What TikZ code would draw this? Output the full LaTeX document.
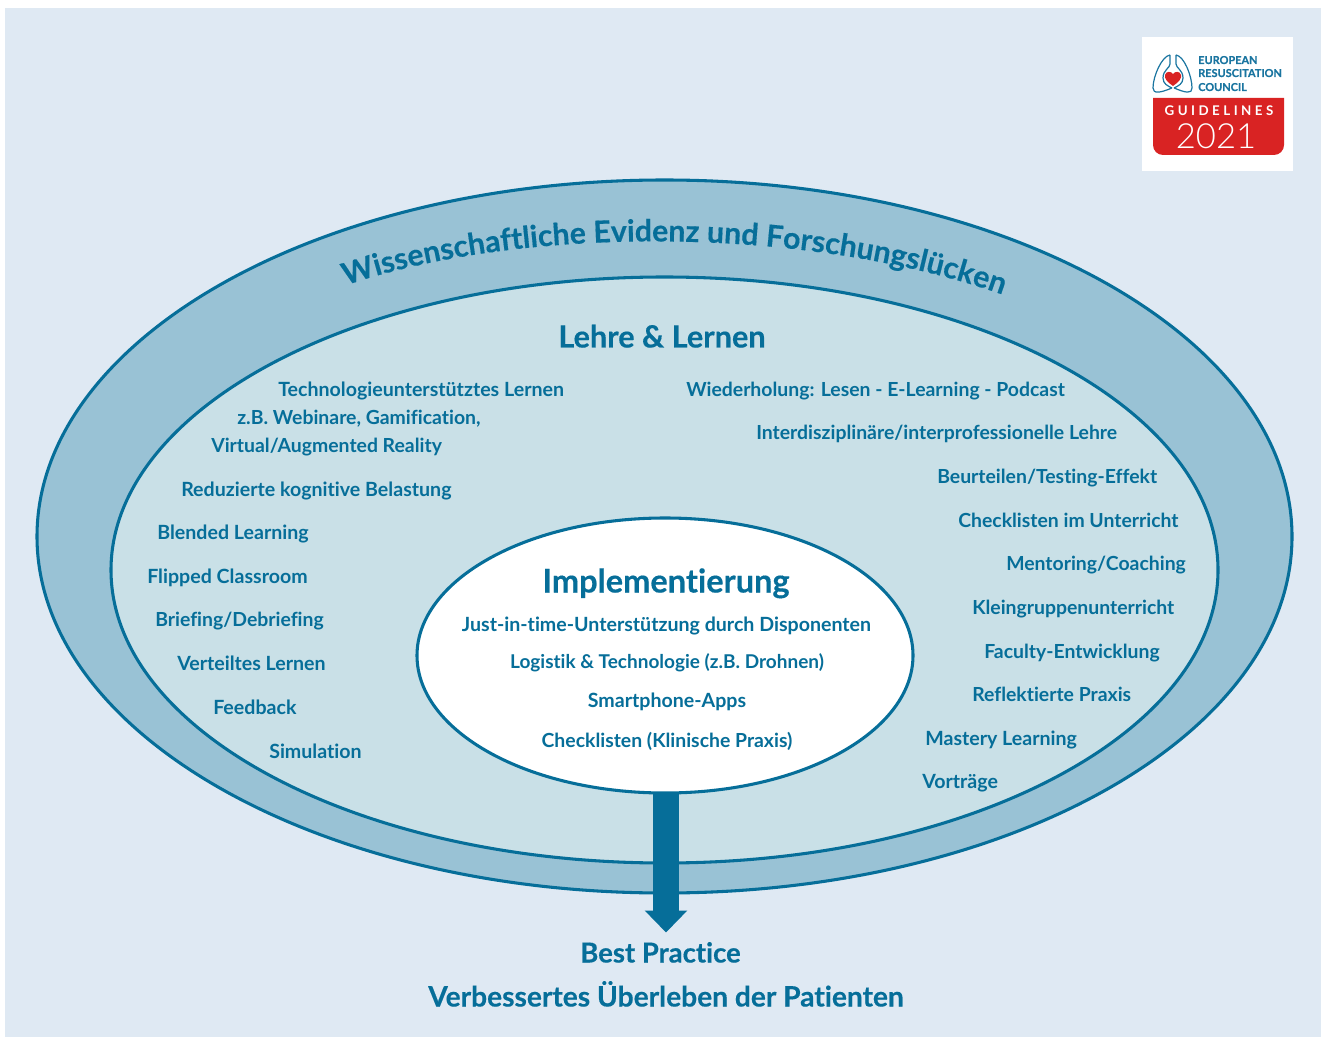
\documentclass[tikz,border=0pt]{standalone}
\usepackage{fontspec}
\setmainfont{Lato}[Ligatures=NoCommon]
\usetikzlibrary{shapes.geometric,decorations.text,arrows.meta}
\definecolor{bgc}{HTML}{DFE9F3}
\definecolor{ringc}{HTML}{99C2D5}
\definecolor{midc}{HTML}{C9E0E7}
\definecolor{linec}{HTML}{066E99}
\definecolor{redc}{HTML}{D92323}
\definecolor{logoblue}{HTML}{1A75A0}
\tikzset{
  x=0.75pt,y=-0.75pt,
  oval/.style={ellipse,draw=linec,line width=2.3pt,inner sep=0pt,outer sep=0pt},
  lab/.style={anchor=base west,inner sep=0pt,text=linec,yshift=-0.6pt,font=\bfseries\fontsize{14.7}{16}\selectfont},
  rlab/.style={lab,font=\bfseries\fontsize{14.55}{16}\selectfont},
  head/.style={anchor=base,inner sep=0pt,text=linec,font=\bfseries\addfontfeature{FakeBold=0.4}\fontsize{23}{26}\selectfont},
  foot/.style={anchor=base,inner sep=0pt,text=linec,font=\bfseries\addfontfeature{FakeBold=0.4}\fontsize{20.6}{24}\selectfont},
  logotxt/.style={anchor=base west,inner sep=0pt,text=logoblue,font=\bfseries\addfontfeature{FakeBold=0.4}\fontsize{8.2}{9}\selectfont},
}
\begin{document}
\begin{tikzpicture}
\useasboundingbox (0,0) rectangle (1321,1037);
\fill[white] (0,0) rectangle (1321,1037);
\fill[bgc] (5,8) rectangle (1321,1037);
% ellipses
\node[oval,fill=ringc,minimum width=941.25pt,minimum height=534.75pt] (outer) at (664.5,536.5) {};
\node[oval,fill=midc,minimum width=830.25pt,minimum height=439.5pt] (middle) at (664.5,570) {};
\node[oval,fill=white,minimum width=372pt,minimum height=206.25pt] (inner) at (665,655.5) {};
% arrow
\coordinate (tip) at (666,932.5);
\draw[linec,line width=19.8pt,-{Triangle[length=16.5pt,width=31pt]}] (tip|-inner.south) -- (tip);
% curved title
\path[decorate,decoration={text along path,text align=center,
  text={|\bfseries\addfontfeature{FakeBold=0.4}\fontsize{22.7}{26}\selectfont\color{linec}|Wissenschaftliche Evidenz und Forschungslücken}}]
  (336,289) .. controls (500,228) and (800,220) .. (1012,298);
% headings
\node[head] (lehre) at (662,347.5) {Lehre \& Lernen};
\node[head,font=\bfseries\addfontfeature{FakeBold=0.4}\fontsize{24.4}{26}\selectfont] (impl) at (666,592.5) {Implementierung};
% centre
\node[lab,anchor=base] (i1) at (666.5,631) {Just-in-time-Unterstützung durch Disponenten};
\node[lab,anchor=base,font=\bfseries\fontsize{14.25}{16}\selectfont] (i2) at (667,668) {Logistik \& Technologie (z.B. Drohnen)};
\node[lab,anchor=base] (i3) at (667,707) {Smartphone-Apps};
\node[rlab,anchor=base] (i4) at (667,747) {Checklisten (Klinische Praxis)};
% left column
\node[lab] (l1) at (278,396) {Technologieunterstütztes Lernen};
\node[rlab] (l2) at (237,424) {z.B. Webinare, Gamification,};
\node[rlab] (l3) at (211,452) {Virtual/Augmented Reality};
\node[lab] (l4) at (181,496) {Reduzierte kognitive Belastung};
\node[lab] (l5) at (157,539) {Blended Learning};
\node[lab] (l6) at (147,583) {Flipped Classroom};
\node[rlab] (l7) at (155,626) {Briefing/Debriefing};
\node[lab] (l8) at (177,670) {Verteiltes Lernen};
\node[lab] (l9) at (213,714) {Feedback};
\node[lab] (l10) at (269,758) {Simulation};
% right column
\node[rlab] (r1) at (686,396) {Wiederholung: Lesen - E-Learning - Podcast};
\node[rlab] (r2) at (756,439) {Interdisziplinäre/interprofessionelle Lehre};
\node[rlab] (r3) at (937,483) {Beurteilen/Testing-Effekt};
\node[rlab] (r4) at (958,527) {Checklisten im Unterricht};
\node[rlab] (r5) at (1006,570) {Mentoring/Coaching};
\node[rlab] (r6) at (972,614) {Kleingruppenunterricht};
\node[rlab] (r7) at (984,658) {Faculty-Entwicklung};
\node[rlab] (r8) at (972,701) {Reflektierte Praxis};
\node[lab] (r9) at (925,745) {Mastery Learning};
\node[lab] (r10) at (922,788) {Vorträge};
% bottom
\node[foot] (bp) at (660.5,962.5) {Best Practice};
\node[foot,font=\bfseries\addfontfeature{FakeBold=0.4}\fontsize{21.1}{24}\selectfont] (vu) at (666,1006.5) {Verbessertes Überleben der Patienten};
% logo
\fill[white] (1142,37) rectangle (1293,171);
\fill[redc] (1153,98) -- (1284,98) -- (1284,145) arc[start angle=0,end angle=90,radius=10] -- (1163,155) arc[start angle=90,end angle=180,radius=10] -- cycle;
\draw[logoblue,line width=0.9pt,line join=round]
  (1170,55) .. controls (1162,56) and (1153,76) .. (1153,88)
  .. controls (1153,94) and (1160,93) .. (1172,88)
  (1176,55) .. controls (1184,56) and (1192,76) .. (1192,88)
  .. controls (1192,94) and (1186,93) .. (1174,88)
  (1170,55) -- (1170,64) (1176,55) -- (1176,64)
  (1170,64) .. controls (1170,68) and (1163,70) .. (1163,78) .. controls (1163,84) and (1168,86) .. (1172,88)
  (1176,64) .. controls (1176,68) and (1183,70) .. (1183,78) .. controls (1183,84) and (1178,86) .. (1174,88);
\fill[redc] (1173,86) .. controls (1167,82) and (1164,78) .. (1165,75) .. controls (1166,71) and (1171,71) .. (1173,74)
  .. controls (1175,71) and (1180,71) .. (1181,75) .. controls (1182,78) and (1179,82) .. (1173,86) -- cycle;
\node[logotxt] (e1) at (1198,64) {EUROPEAN};
\node[logotxt] (e2) at (1198,77) {RESUSCITATION};
\node[logotxt] (e3) at (1198,91) {COUNCIL};
\node[anchor=base,inner sep=0pt,text=white,font=\bfseries\fontsize{10}{12}\selectfont] (g) at (1219,116) {G\kern2.6pt U\kern2.6pt I\kern2.6pt D\kern2.6pt E\kern2.6pt L\kern2.6pt I\kern2.6pt N\kern2.6pt E\kern2.6pt S};
\node[anchor=base,inner sep=0pt,text=white,font=\fontspec{Lato Light}\fontsize{26}{30}\selectfont] (y) at (1216,149) {2021};
\end{tikzpicture}
\end{document}
